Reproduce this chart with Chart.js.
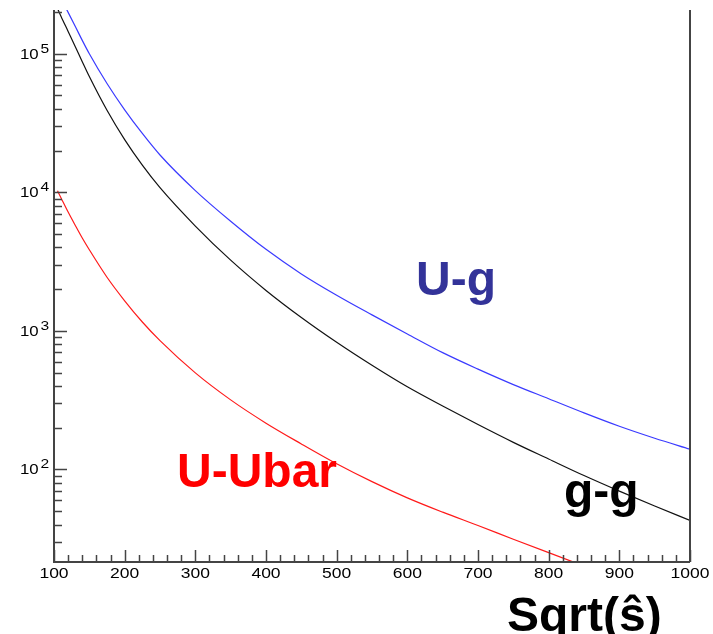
<!DOCTYPE html>
<html>
<head>
<meta charset="utf-8">
<script src="https://cdn.jsdelivr.net/npm/chart.js@4/dist/chart.umd.min.js"></script>
<style>
  html, body { margin: 0; padding: 0; background: #fff; }
  #wrap { width: 713px; height: 634px; }
</style>
</head>
<body>
<div id="wrap"><canvas id="xsec" width="713" height="634"></canvas></div>
<script>
// sqrt(s-hat) sample points
const sqrtS = [105, 110, 120, 130, 140, 150, 175, 200, 225, 250, 300, 350, 400, 450,
  500, 550, 600, 650, 700, 750, 800, 850, 900, 950, 1000];

// U-g (blue)
const ugValues = [null, 250000, 199000, 158000, 125000, 100000, 61000, 39400, 26600, 18600,
  10300, 6190, 3880, 2580, 1810, 1306, 951, 697, 530, 410, 324, 256, 205, 168, 140];

// g-g (black)
const ggValues = [212000, 186000, 145000, 113000, 87700, 68500, 39100, 24000, 15700, 10800,
  5710, 3240, 1960, 1250, 828, 565, 395, 287, 211, 157, 119, 90.4, 69.8, 54.5, 42.9];

// U-Ubar (red)
const uubarValues = [10260, 9120, 7210, 5790, 4680, 3850, 2440, 1650, 1160, 851,
  498, 318, 216, 153, 110, 81.7, 62.4, 49.2, 39.4, 31.4, 25.1, 20.1, null, null, null];

const xMajor = [100, 200, 300, 400, 500, 600, 700, 800, 900, 1000];
const yDecades = [2, 3, 4, 5];

function pts(vals) {
  const out = [];
  sqrtS.forEach((s, i) => { if (vals[i] != null) out.push({ x: s, y: vals[i] }); });
  return out;
}

const axesPlugin = {
  id: 'rootAxes',
  afterDraw(chart) {
    const ctx = chart.ctx;
    const xs = chart.scales.x, ys = chart.scales.y;
    const a = chart.chartArea;
    ctx.save();
    ctx.strokeStyle = '#444';
    ctx.lineWidth = 2;
    ctx.beginPath();
    ctx.moveTo(a.left, a.top); ctx.lineTo(a.left, a.bottom); ctx.lineTo(a.right, a.bottom);
    ctx.moveTo(a.right, a.top); ctx.lineTo(a.right, a.bottom);
    ctx.stroke();

    // x ticks
    ctx.lineWidth = 1.5;
    ctx.beginPath();
    for (let v = 100; v <= 1000; v += 20) {
      const px = Math.round(xs.getPixelForValue(v)) + 0.5;
      const len = (v % 100 === 0) ? 12 : 7;
      ctx.moveTo(px, a.bottom); ctx.lineTo(px, a.bottom - len);
    }
    // y ticks
    for (let d = 1; d <= 5; d++) {
      for (let m = 1; m <= 9; m++) {
        const v = m * Math.pow(10, d);
        if (v < ys.min || v > ys.max) continue;
        const py = Math.round(ys.getPixelForValue(v)) + 0.5;
        const len = (m === 1) ? 13 : 8;
        ctx.moveTo(a.left, py); ctx.lineTo(a.left + len, py);
      }
    }
    ctx.stroke();

    // tick labels
    ctx.fillStyle = '#000';
    ctx.font = '14px "Liberation Sans", Arial, sans-serif';
    ctx.textBaseline = 'alphabetic';
    xMajor.forEach(v => {
      const px = xs.getPixelForValue(v);
      ctx.save();
      ctx.translate(px, 578);
      ctx.scale(1.25, 1);
      ctx.textAlign = 'center';
      ctx.fillText(String(v), 0, 0);
      ctx.restore();
    });
    yDecades.forEach(e => {
      const py = ys.getPixelForValue(Math.pow(10, e));
      ctx.save();
      ctx.translate(20, py + 5);
      ctx.scale(1.2, 1);
      ctx.textAlign = 'left';
      ctx.fillText('10', 0, 0);
      ctx.font = '13px "Liberation Sans", Arial, sans-serif';
      ctx.fillText(String(e), 17, -6);
      ctx.restore();
    });

    // curve labels
    ctx.font = 'bold 48px "Liberation Sans", Arial, sans-serif';
    ctx.textAlign = 'left';
    ctx.fillStyle = '#333399';
    ctx.fillText('U-g', 416, 295);
    ctx.fillStyle = '#000';
    ctx.fillText('g-g', 564, 507);
    ctx.fillStyle = '#ff0000';
    ctx.fillText('U-Ubar', 177, 487);
    ctx.fillStyle = '#000';
    ctx.fillText('Sqrt(\u015D)', 507, 631);
    ctx.restore();
  }
};

new Chart(document.getElementById('xsec'), {
  type: 'line',
  data: {
    datasets: [
      { label: 'U-g', data: pts(ugValues), borderColor: '#3a3aff', borderWidth: 1.2 },
      { label: 'g-g', data: pts(ggValues), borderColor: '#111111', borderWidth: 1.2 },
      { label: 'U-Ubar', data: pts(uubarValues), borderColor: '#ff1a1a', borderWidth: 1.2 }
    ]
  },
  options: {
    responsive: false,
    animation: false,
    layout: { padding: { left: 54, right: 23, top: 10, bottom: 72 } },
    elements: { point: { radius: 0 }, line: { cubicInterpolationMode: 'monotone', fill: false } },
    plugins: { legend: { display: false }, tooltip: { enabled: false } },
    scales: {
      x: { type: 'linear', min: 100, max: 1000, display: false },
      y: { type: 'logarithmic', min: 21.5, max: 207000, display: false }
    }
  },
  plugins: [axesPlugin]
});
</script>
</body>
</html>
